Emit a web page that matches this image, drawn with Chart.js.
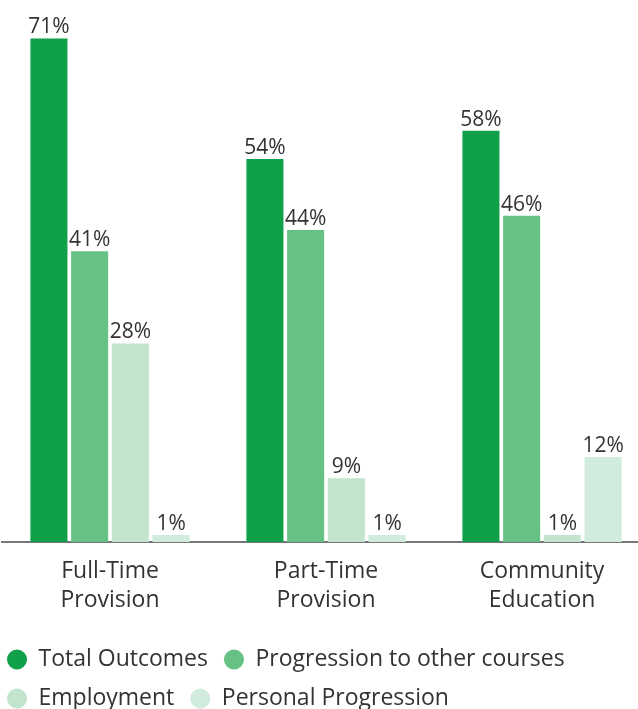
<!DOCTYPE html>
<html lang="en">
<head>
  <meta charset="UTF-8">
  <title>Outcomes by Provision</title>
  <script src="https://cdn.jsdelivr.net/npm/chart.js"></script>
  <style>
    html, body { margin: 0; padding: 0; background: #fff; overflow: hidden; }
    #wrap { position: relative; width: 650px; height: 720px; }
  </style>
</head>
<body>
<div id="wrap"><canvas id="myChart"></canvas></div>
<script>
  const categories = [['Full-Time', 'Provision'], ['Part-Time', 'Provision'], ['Community', 'Education']];
  const seriesNames = ['Total Outcomes', 'Progression to other courses', 'Employment', 'Personal Progression'];
  const totalOutcomes = [71, 54, 58];
  const progression = [41, 44, 46];
  const employment = [28, 9, 1];
  const personal = [1, 1, 12];
  const colors = ['#10a049', '#66c185', '#c2e4cc', '#d1ecdc'];

  const FONT = '"Open Sans", Lato, sans-serif';

  // percent labels above each bar
  const valueLabels = {
    id: 'valueLabels',
    afterDatasetsDraw(chart) {
      const c = chart.ctx;
      c.save();
      c.font = '21px ' + FONT;
      c.fillStyle = '#333';
      c.textAlign = 'center';
      c.textBaseline = 'alphabetic';
      chart.data.datasets.forEach((ds, i) => {
        chart.getDatasetMeta(i).data.forEach((bar, j) => {
          c.fillText(ds.data[j] + '%', bar.x, bar.y - 5);
        });
      });
      c.restore();
    }
  };

  // pull the legend rows closer to the left edge
  const legendShift = {
    id: 'legendShift',
    afterLayout(chart) {
      chart.legend.left -= 11;
      chart.legend.right -= 11;
    }
  };

  const ctx = document.getElementById('myChart').getContext('2d');
  new Chart(ctx, {
    type: 'bar',
    data: {
      labels: categories,
      datasets: [totalOutcomes, progression, employment, personal].map((d, i) => ({
        label: seriesNames[i],
        data: d,
        backgroundColor: colors[i],
        barPercentage: 0.91,
        categoryPercentage: 0.754
      }))
    },
    options: {
      responsive: true,
      maintainAspectRatio: false,
      animation: false,
      layout: { padding: { left: 2, top: 3, right: 0, bottom: 0 } },
      scales: {
        x: {
          grid: { display: false, drawTicks: false },
          border: { display: true, color: '#777', width: 2 },
          ticks: { color: '#333', font: { family: FONT, size: 23, lineHeight: 1.26 }, padding: 15, maxRotation: 0 }
        },
        y: {
          display: false,
          min: 0,
          max: 76
        }
      },
      plugins: {
        legend: {
          position: 'bottom',
          align: 'start',
          title: { display: true, text: ' ', font: { size: 2, lineHeight: 1 }, padding: 0 },
          labels: {
            usePointStyle: true,
            pointStyle: 'circle',
            boxHeight: 14,
            pointStyleWidth: 20,
            padding: 16,
            color: '#333',
            font: { family: FONT, size: 23 }
          }
        },
        tooltip: { enabled: false }
      }
    },
    plugins: [valueLabels, legendShift]
  });
</script>
</body>
</html>
